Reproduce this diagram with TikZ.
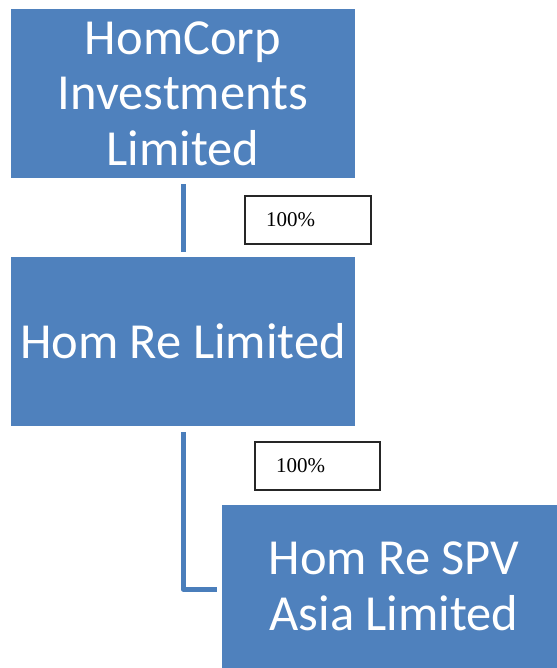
\documentclass[tikz,border=0pt]{standalone}
\usepackage{fontspec}
\setmainfont{Carlito}
\newfontfamily\labelfont{Liberation Serif}
\definecolor{boxblue}{RGB}{79,129,189}
\definecolor{lineblue}{RGB}{74,126,187}
\begin{document}
\begin{tikzpicture}[x=1pt,y=-1pt,
  entity/.style={rectangle, fill=boxblue, draw=none, text=white, align=center,
    inner sep=0pt, font=\fontsize{50.5}{55.5}\selectfont},
  pct/.style={rectangle, draw=black!85, line width=1.1pt, fill=white, align=left,
    inner xsep=21pt, inner ysep=0pt, minimum height=48pt,
    font=\labelfont\fontsize{21}{23}\selectfont},
  link/.style={draw=lineblue, line width=5pt, line join=round}]
\useasboundingbox (0,0) rectangle (556,668);
\node[entity, minimum width=344pt, minimum height=169pt] (b1) at (183,93.5)
  {HomCorp\\Investments\\Limited};
\node[entity, minimum width=344pt, minimum height=169pt] (b2) at (183,341.5)
  {Hom Re Limited};
\node[entity, minimum width=344pt, minimum height=163pt] (b3) at (394,586.5)
  {Hom Re SPV\\Asia Limited};
\node[pct, text width=84pt] (p1) at (308,220) {100\%};
\node[pct, text width=83pt] (p2) at (317.5,466) {100\%};
\draw[link] ([yshift=-6pt]b1.south) -- ([yshift=5pt]b2.north);
\coordinate (c2) at ([xshift=-5pt,yshift=-2.5pt]b3.west);
\draw[link] ([yshift=-6pt]b2.south) |- (c2);
\end{tikzpicture}
\end{document}
